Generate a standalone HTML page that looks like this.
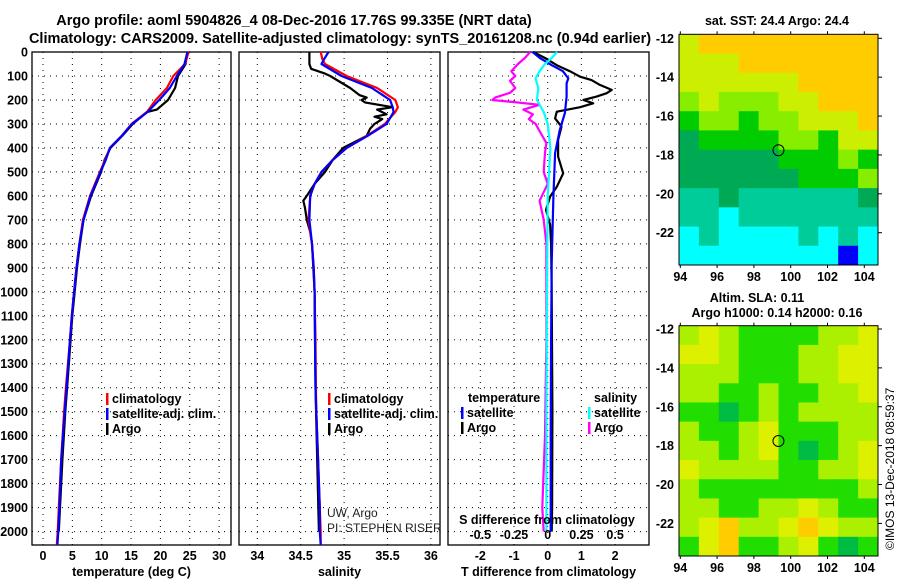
<!DOCTYPE html>
<html><head><meta charset="utf-8"><style>
html,body{margin:0;padding:0;background:#fff;}
body{width:900px;height:580px;overflow:hidden;font-family:"Liberation Sans",sans-serif;}
svg text{font-family:"Liberation Sans",sans-serif;}
</style></head><body>
<svg id="chart" width="900" height="580" viewBox="0 0 900 580" xmlns="http://www.w3.org/2000/svg">
<text x="294" y="25" font-size="14.5" font-weight="bold" text-anchor="middle">Argo profile: aoml 5904826_4 08-Dec-2016 17.76S 99.335E (NRT data)</text>
<text x="340" y="43" font-size="14.5" font-weight="bold" text-anchor="middle">Climatology: CARS2009. Satellite-adjusted climatology: synTS_20161208.nc (0.94d earlier)</text>
<g id="panels"></g>
<text x="777" y="25" font-size="12.5" font-weight="bold" text-anchor="middle">sat. SST: 24.4 Argo: 24.4</text>
<text x="757" y="302" font-size="12.5" font-weight="bold" text-anchor="middle">Altim. SLA: 0.11</text>
<text x="777" y="317" font-size="12.5" font-weight="bold" text-anchor="middle">Argo h1000: 0.14 h2000: 0.16</text>
<text transform="translate(894,550) rotate(-90)" font-size="12">©IMOS 13-Dec-2018 08:59:37</text>
<g id="maps"></g>
</svg>
<script>
// ---------- data ----------
const depthTicks=[0,100,200,300,400,500,600,700,800,900,1000,1100,1200,1300,1400,1500,1600,1700,1800,1900,2000];
const tempTicks=[0,5,10,15,20,25,30];
const salTicks=[34,34.5,35,35.5,36];
const tdTicks=[-2,-1,0,1,2];
const sdTicks=[-0.5,-0.25,0,0.25,0.5];

const tClimDepth=[0,50,100,150,200,250,300,350,400,450,500,600,700,800,900,1000,1100,1200,1400,1500,1700,1900,2000,2056];
const tClim=[24.8,24.2,22.2,21.1,19.2,17.7,15.1,13.4,11.4,10.6,9.7,8.0,6.8,6.2,5.7,5.3,4.9,4.6,3.9,3.6,3.1,2.7,2.5,2.35];
const tSat=[24.6,24.1,22.8,21.6,19.8,17.8,15.2,13.4,11.4,10.7,9.8,8.1,6.9,6.2,5.7,5.3,4.9,4.6,4.0,3.7,3.1,2.8,2.6,2.45];
const tArgoDepth=[0,50,100,150,200,240,250,300,350,400,450,500,600,700,800,900,1000,1100,1200,1400,1500,1700,1900,2000];
const tArgo=[24.6,24.3,23.0,22.5,21.3,19.4,17.7,15.3,13.5,11.5,10.5,9.9,8.2,6.9,6.3,5.8,5.4,5.0,4.7,4.1,3.8,3.3,2.9,2.7];

const sClimDepth=[0,30,50,100,150,200,230,250,300,350,400,450,500,550,600,700,800,900,1000,1200,1400,1500,1700,1900,2000,2056];
const sClim=[34.73,34.75,34.78,35.03,35.38,35.59,35.62,35.59,35.47,35.26,35.03,34.87,34.74,34.66,34.61,34.59,34.63,34.65,34.66,34.67,34.675,34.68,34.70,34.72,34.73,34.73];
const sSat=[34.82,34.77,34.74,34.97,35.32,35.53,35.56,35.57,35.49,35.27,35.03,34.87,34.74,34.66,34.61,34.60,34.63,34.65,34.66,34.665,34.67,34.68,34.70,34.72,34.72,34.73];
const sArgoDepth=[0,50,70,90,100,150,180,190,200,210,230,240,260,270,280,300,320,350,400,450,500,550,600,620,650,700,750,800,1000,1400,1700,2000];
const sArgo=[34.60,34.60,34.62,34.78,34.84,35.07,35.18,35.26,35.20,35.24,35.56,35.38,35.49,35.35,35.44,35.35,35.30,35.26,34.99,34.87,34.78,34.66,34.57,34.53,34.55,34.57,34.61,34.63,34.66,34.67,34.69,34.71];

const tdDepth=[0,25,55,80,110,130,186,255,325,421,603,880,1200,1600,2000];
const tdSat=[-0.45,-0.23,0.12,0.45,0.61,0.56,0.56,0.51,0.36,0.22,0.17,0.12,0.1,0.09,0.09];
const tdArgoDepth=[0,25,55,80,103,117,137,158,172,186,200,214,230,249,277,311,367,436,506,562,603,659,720,800,1000,1500,1900,2000];
const tdArgo=[-0.43,-0.08,0.27,0.66,0.96,1.3,1.55,1.9,1.75,1.45,1.06,1.35,0.96,0.27,0.22,0.41,0.31,0.31,0.46,0.27,0.07,-0.05,0.07,0.1,0.12,0.14,0.13,0.12];
const sdArgoDepth=[0,25,50,80,100,120,150,170,190,200,210,220,240,260,280,300,330,380,420,500,550,620,700,800,1200,1600,1900,2000];
const sdArgo=[-0.13,-0.17,-0.22,-0.27,-0.24,-0.28,-0.24,-0.28,-0.39,-0.41,-0.23,-0.06,-0.18,-0.11,-0.14,-0.09,-0.06,-0.01,-0.02,-0.03,0.0,-0.06,-0.03,-0.01,-0.01,-0.02,-0.04,-0.03];
const sdSatDepth=[0,25,50,80,110,150,200,250,300,400,600,1000,1500,2000];
const sdSat=[0.07,0.03,-0.02,-0.06,-0.09,-0.07,-0.08,-0.03,0.0,0.02,0.0,-0.005,-0.01,-0.01];

const lonTicks=[94,96,98,100,102,104];
const latTicks=[-12,-14,-16,-18,-20,-22];
const argoLon=99.335, argoLat=-17.76;
const sstPalette={O:'#ffcc00',Y:'#ccee00',L:'#88ee00',G:'#00cc00',D:'#00aa55',T:'#00cc99',C:'#00ffff',B:'#0000ff'};
const sstGrid=["YOOOOOOOOO","YYYOOOOOOO","YYYYYYOOOO","LYLLLYYOOO","GLLGLLYYYO","DGGGGLLGYY","DDDDDGGGLG","DDDDDDGGGL","TTDTTTTTTD","TTCTTTTTTT","CTCCCCTCTC","CCCCCCCCBC"];
const slaPalette={Y:'#ddf000',L:'#aaf000',G:'#22dd00',M:'#00bb44',O:'#ffcc00'};
const slaGrid=["LYLGGGGLLY","YYLGGGLLYY","LLLGGGLLYY","LLGGLGGLLY","GGMGLGLLLL","LGGLYGGGLL","LLGLYGMGLY","YLLLLGGLLY","LGGGGGGGGL","LLGGLLYLGG","LYOLLYOYLL","GYOGGLYGMG"];

// ---------- helpers ----------
const NS='http://www.w3.org/2000/svg';
function mk(tag,attrs,parent){const e=document.createElementNS(NS,tag);for(const k in attrs)e.setAttribute(k,attrs[k]);parent.appendChild(e);return e;}
const P=document.getElementById('panels');
const TOP=52,BOT=545;
const yD=d=>TOP+d*0.2398;
function panel(name,x0,x1,xs,ticks,labelFmt,title){
  const g=mk('g',{},P);
  
  
  depthTicks.forEach(d=>{const l=mk('line',{x1:x0,x2:x1,y1:yD(d),y2:yD(d),stroke:'#000','stroke-width':1,'stroke-dasharray':'1 5'},g);
    
    });
  ticks.forEach(t=>{const l=mk('line',{x1:xs(t),x2:xs(t),y1:TOP,y2:BOT,stroke:'#000','stroke-width':1,'stroke-dasharray':'1 5'},g);
    
    
    if(labelFmt){const tx=mk('text',{x:xs(t),y:560,'font-size':12.5,'font-weight':'bold','text-anchor':'middle'},g);tx.textContent=labelFmt(t);
    
    }});
  const r=mk('rect',{x:x0,y:TOP,width:x1-x0,height:BOT-TOP,fill:'none',stroke:'#000','stroke-width':1.3},g);
  
  
  const tt=mk('text',{x:(x0+x1)/2,y:576,'font-size':12.5,'font-weight':'bold','text-anchor':'middle'},g);tt.textContent=title;
  
  
  return g;
}
function line(g,name,depths,vals,xs,color){
  const pts=depths.map((d,i)=>xs(vals[i]).toFixed(1)+','+yD(d).toFixed(1)).join(' ');
  const pl=mk('polyline',{points:pts,fill:'none',stroke:color,'stroke-width':2.2,'stroke-linejoin':'round'},g);
  
  
}
function legend(g,x,y,items){
  items.forEach((it,i)=>{
    const b=mk('rect',{x:x,y:y+i*15-10,width:2.5,height:12,fill:it[1]},g);
    
    
    const t=mk('text',{x:x+6,y:y+i*15,'font-size':12.5,'font-weight':'bold'},g);t.textContent=it[0];
    
    
  });
}
// depth labels
depthTicks.forEach(d=>{const t=mk('text',{x:28,y:yD(d)+4.5,'font-size':12.5,'font-weight':'bold','text-anchor':'end'},P);t.textContent=d;
  
  });

// panel 1 temperature
const xT=v=>43+v*5.87;
const g1=panel('temperature-panel',32,231,xT,tempTicks,t=>t,'temperature (deg C)');
line(g1,'temp-argo-line',tArgoDepth,tArgo,xT,'#000');
line(g1,'temp-climatology-line',tClimDepth,tClim,xT,'#f00');
line(g1,'temp-satellite-line',tClimDepth,tSat,xT,'#00f');
legend(g1,106,403,[['climatology','#f00'],['satellite-adj. clim.','#00f'],['Argo','#000']]);

// panel 2 salinity
const xS=v=>257.3+(v-34)*86.8;
const g2=panel('salinity-panel',239,440,xS,salTicks,t=>t,'salinity');
line(g2,'sal-argo-line',sArgoDepth,sArgo,xS,'#000');
line(g2,'sal-climatology-line',sClimDepth,sClim,xS,'#f00');
line(g2,'sal-satellite-line',sClimDepth,sSat,xS,'#00f');
legend(g2,328,403,[['climatology','#f00'],['satellite-adj. clim.','#00f'],['Argo','#000']]);
[['UW, Argo',517],['PI: STEPHEN RISER',532]].forEach(a=>{const t=mk('text',{x:327,y:a[1],'font-size':12,fill:'#222'},g2);t.textContent=a[0];
  
  });

// panel 3 differences
const xTD=v=>547.7+v*33.7;
const xSD=v=>547.7+v*134.8;
const g3=panel('difference-panel',448,649,xTD,tdTicks,t=>t,'T difference from climatology');
line(g3,'sdiff-argo-line',sdArgoDepth,sdArgo,xSD,'#ff00ff');
line(g3,'tdiff-argo-line',tdArgoDepth,tdArgo,xTD,'#000');
line(g3,'tdiff-satellite-line',tdDepth,tdSat,xTD,'#00f');
line(g3,'sdiff-satellite-line',sdSatDepth,sdSat,xSD,'#00ffff');
const th=mk('text',{x:468,y:402,'font-size':12.5,'font-weight':'bold'},g3);th.textContent='temperature';


const sh=mk('text',{x:594,y:402,'font-size':12.5,'font-weight':'bold'},g3);sh.textContent='salinity';


legend(g3,461,417,[['satellite','#00f'],['Argo','#000']]);
legend(g3,588,417,[['satellite','#00ffff'],['Argo','#ff00ff']]);
const st=mk('text',{x:547,y:524,'font-size':12.5,'font-weight':'bold','text-anchor':'middle'},g3);st.textContent='S difference from climatology';


sdTicks.forEach(s=>{const t=mk('text',{x:xSD(s),y:539,'font-size':12.5,'font-weight':'bold','text-anchor':'middle'},g3);t.textContent=s;
  
  });

// ---------- maps ----------
const M=document.getElementById('maps');
function map(name,y0,y1,latTop,grid,pal){
  const x0=679,x1=878;
  const lonX=l=>680.3+(l-94)*18.4;
  const latY=l=>latTop+(-12-l)*19.44;
  const g=mk('g',{},M);
  
  
  const rows=grid.length,cols=grid[0].length,cw=(x1-x0)/cols,ch=(y1-y0)/rows;
  grid.forEach((row,r)=>{for(let c=0;c<cols;c++){
    const rc=mk('rect',{x:x0+c*cw,y:y0+r*ch,width:cw+0.5,height:ch+0.5,fill:pal[row[c]]},g);
    
    }});
  const fr=mk('rect',{x:x0,y:y0,width:x1-x0,height:y1-y0,fill:'none',stroke:'#000','stroke-width':1},g);
  
  
  lonTicks.forEach(l=>{const t=mk('text',{x:lonX(l),y:y1+16,'font-size':12.5,'font-weight':'bold','text-anchor':'middle'},g);t.textContent=l;
    
    
    mk('line',{x1:lonX(l),x2:lonX(l),y1:y1,y2:y1+3,stroke:'#000'},g);
    mk('line',{x1:lonX(l),x2:lonX(l),y1:y0,y2:y0-3,stroke:'#000'},g);});
  latTicks.forEach(l=>{const t=mk('text',{x:674,y:latY(l)+4.5,'font-size':12.5,'font-weight':'bold','text-anchor':'end'},g);t.textContent=l;
    
    
    mk('line',{x1:x1,x2:x1+4,y1:latY(l),y2:latY(l),stroke:'#000'},g);});
  const c=mk('circle',{cx:lonX(argoLon),cy:latY(argoLat),r:5.5,fill:'none',stroke:'#000','stroke-width':1},g);
  
  
}
map('sst-map',34.3,265,38.3,sstGrid,sstPalette);
map('sla-map',325.7,556,329,slaGrid,slaPalette);
</script>
</body></html>
